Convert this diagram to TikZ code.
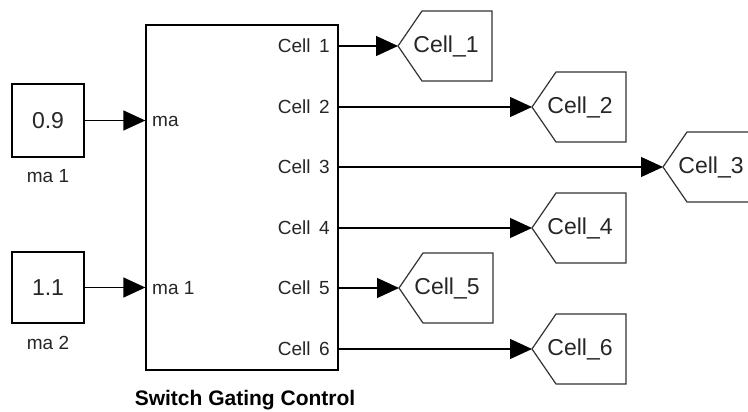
\documentclass[tikz,border=0pt]{standalone}
\usepackage{fontspec}
\setmainfont{Liberation Sans}
\usetikzlibrary{arrows.meta,calc}
\begin{document}
\begin{tikzpicture}[x=1pt,y=-1pt,
  wire/.style={draw=black,line width=1.3pt,-{Triangle[length=22pt,width=20pt]}},
  blk/.style={draw=black,line width=1.3pt,fill=white,inner sep=0pt},
  tagline/.style={draw=black!80,line width=1.2pt,fill=white},
  lbl/.style={font=\fontsize{19}{22}\selectfont,text=black!85,inner sep=0pt},
  taglbl/.style={font=\fontsize{23}{26}\selectfont,text=black!85,inner sep=0pt},
  constlbl/.style={font=\fontsize{23}{26}\selectfont,text=black!85},
  title/.style={font=\bfseries\fontsize{21}{24}\selectfont,text=black,inner sep=0pt}
]
\clip (0,0) rectangle (748,412);
\fill[white] (0,0) rectangle (748,412);

% subsystem block
\node[blk,minimum width=192pt,minimum height=345pt] (sgc) at (242,197.5) {};
\node[title] (ttl) at (245,400) {Switch Gating Control};

% constant sources and their names
\node[blk,constlbl,minimum width=72pt,minimum height=73pt] (c1) at (48,120.5) {0.9};
\node[lbl] (n1) at (48,176) {ma 1};
\node[blk,constlbl,minimum width=72pt,minimum height=71pt] (c2) at (48,287.5) {1.1};
\node[lbl] (n2) at (48,343) {ma 2};

% input ports
\coordinate (in1) at (c1.east -| sgc.west);
\coordinate (in2) at (c2.east -| sgc.west);
\node[lbl,anchor=west] (ma) at (152,121) {ma};
\node[lbl,anchor=west] (ma1) at (152,288) {ma 1};
\draw[wire] (c1.east) -- (in1);
\draw[wire] (c2.east) -- (in2);

% output ports and goto tags
\foreach \i/\y/\tx in {1/46/398, 2/107/532, 3/167/663, 4/228/532, 5/288/399, 6/349/532} {
  \coordinate (p\i) at (338,\y);
  \coordinate (g\i) at (\tx,\y);
  \draw[tagline] (g\i) -- ++(24,-35) -- ++(70,0) -- ++(0,70) -- ++(-70,0) -- cycle;
  \node[taglbl] (t\i) at ($(g\i)+(48,0)$) {Cell\_\i};
  \node[lbl,anchor=east] (l\i) at (330,\y) {Cell\hspace{0.45em}\i};
  \draw[wire] (p\i) -- (g\i);
}
\end{tikzpicture}
\end{document}
